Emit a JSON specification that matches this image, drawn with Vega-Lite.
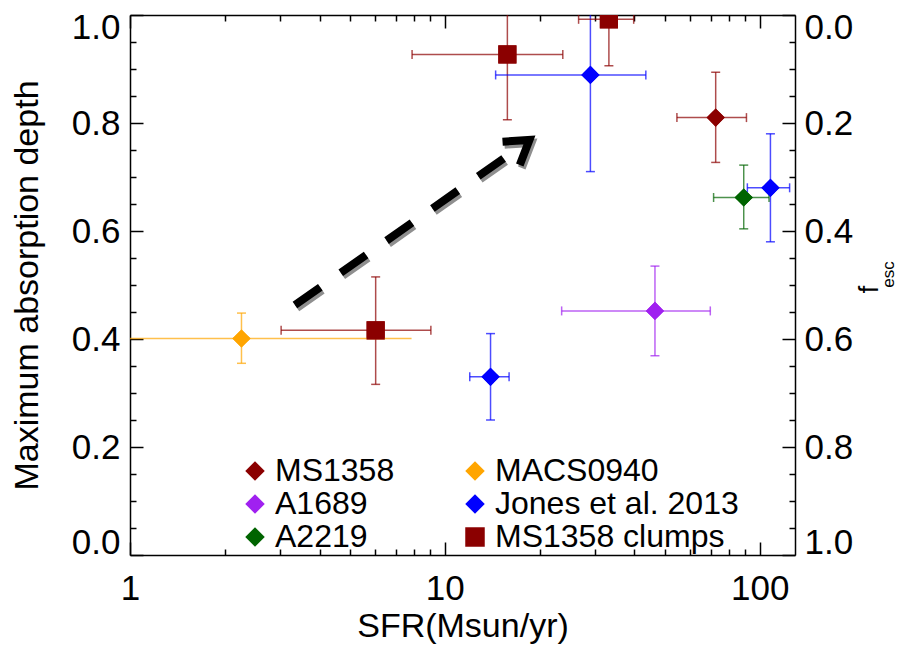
{
  "$schema": "https://vega.github.io/schema/vega-lite/v6.json",
  "width": 665,
  "height": 540,
  "autosize": {"type": "none"},
  "padding": {"left": 130, "top": 15, "right": 110, "bottom": 90},
  "background": "white",
  "config": {
    "font": "Liberation Sans",
    "view": {"stroke": null},
    "axis": {
      "grid": false,
      "domainColor": "black",
      "tickColor": "black",
      "labelColor": "black",
      "titleColor": "black",
      "labelFont": "Liberation Sans",
      "titleFont": "Liberation Sans",
      "titleFontWeight": "normal",
      "labelFontSize": 35,
      "titleFontSize": 34,
      "domainWidth": 1.5,
      "tickWidth": 1.5,
      "labelOverlap": false,
      "labelFlush": false
    },
    "legend": {
      "labelFontSize": 32,
      "labelFont": "Liberation Sans",
      "labelColor": "black",
      "symbolSize": 380,
      "labelOffset": 4,
      "symbolStrokeWidth": 0,
      "labelLimit": 500,
      "rowPadding": 1,
      "columnPadding": 64,
      "symbolOpacity": 1
    }
  },
  "datasets": {
    "pts": [
      {"group": "MS1358", "sfr": 72.5, "depth": 0.81, "xlo": 54.6, "xhi": 90.8, "ylo": 0.727, "yhi": 0.894},
      {"group": "A1689", "sfr": 46.5, "depth": 0.452, "xlo": 23.5, "xhi": 69.7, "ylo": 0.369, "yhi": 0.535},
      {"group": "A2219", "sfr": 89, "depth": 0.662, "xlo": 71.4, "xhi": 107.1, "ylo": 0.604, "yhi": 0.722},
      {"group": "MACS0940", "sfr": 2.26, "depth": 0.401, "xlo": 0.8, "xhi": 7.84, "ylo": 0.355, "yhi": 0.448},
      {"group": "Jones et al. 2013", "sfr": 29.0, "depth": 0.889, "xlo": 14.5, "xhi": 43.5, "ylo": 0.71, "yhi": 1.1},
      {"group": "Jones et al. 2013", "sfr": 108.2, "depth": 0.68, "xlo": 91.4, "xhi": 124.5, "ylo": 0.58, "yhi": 0.78},
      {"group": "Jones et al. 2013", "sfr": 13.97, "depth": 0.33, "xlo": 12.0, "xhi": 16.0, "ylo": 0.25, "yhi": 0.41},
      {"group": "MS1358 clumps", "sfr": 6.03, "depth": 0.416, "xlo": 3.02, "xhi": 9.03, "ylo": 0.316, "yhi": 0.515},
      {"group": "MS1358 clumps", "sfr": 15.8, "depth": 0.927, "xlo": 7.87, "xhi": 23.7, "ylo": 0.806, "yhi": 1.1},
      {"group": "MS1358 clumps", "sfr": 33.2, "depth": 0.992, "xlo": 26.6, "xhi": 39.8, "ylo": 0.906, "yhi": 1.1}
    ],
    "arrow": [
      {"part": "shaft", "sfr": 3.341, "depth": 0.463, "ord": 0},
      {"part": "shaft", "sfr": 15.39, "depth": 0.7346, "ord": 1},
      {"part": "head", "sfr": 15.25, "depth": 0.7654, "ord": 0},
      {"part": "head", "sfr": 18.57, "depth": 0.7687, "ord": 1},
      {"part": "head", "sfr": 17.3, "depth": 0.7222, "ord": 2}
    ]
  },
  "layer": [
    {
      "data": {"name": "pts"},
      "mark": {"type": "point", "filled": true, "size": 330, "opacity": 1, "clip": true, "strokeWidth": 0},
      "encoding": {
        "x": {"field": "sfr", "type": "quantitative", "scale": {"type": "log", "domain": [1, 129.5], "nice": false},
          "axis": {"orient": "bottom", "values": [1, 10, 100], "format": "d", "tickSize": -13, "labelPadding": 57, "labelBaseline": "alphabetic",
            "title": "SFR(Msun/yr)", "titleX": 332.5, "titleY": 81.5, "titleAlign": "center", "titleBaseline": "alphabetic", "titleAngle": 0}},
        "y": {"field": "depth", "type": "quantitative", "scale": {"domain": [0, 1], "nice": false, "zero": false},
          "axis": {"orient": "left", "values": [0, 0.2, 0.4, 0.6, 0.8, 1], "format": ".1f", "tickSize": -13, "labelPadding": 23,
            "labelFlush": true, "labelFlushOffset": 5,
            "title": "Maximum absorption depth", "titleX": -93, "titleY": 270, "titleAngle": 270, "titleAlign": "center", "titleBaseline": "alphabetic"}},
        "color": {"field": "group", "type": "nominal",
          "scale": {"domain": ["MS1358", "A1689", "A2219", "MACS0940", "Jones et al. 2013", "MS1358 clumps"],
            "range": ["#8B0000", "#A020F0", "#006400", "#FFA500", "#0000FF", "#8B0000"]},
          "legend": {"orient": "none", "legendX": 109, "legendY": 440, "columns": 2, "title": null, "symbolSize": 380}},
        "shape": {"field": "group", "type": "nominal",
          "scale": {"domain": ["MS1358", "A1689", "A2219", "MACS0940", "Jones et al. 2013", "MS1358 clumps"],
            "range": ["diamond", "diamond", "diamond", "diamond", "diamond", "square"]},
          "legend": {"orient": "none", "legendX": 109, "legendY": 440, "columns": 2, "title": null, "symbolSize": 380}}
      }
    },
    {
      "data": {"name": "pts"},
      "mark": {"type": "point", "opacity": 0},
      "encoding": {
        "x": {"field": "sfr", "type": "quantitative", "scale": {"type": "log", "domain": [1, 129.5], "nice": false},
          "axis": {"orient": "top", "values": [1, 10, 100], "labels": false, "tickSize": -13, "title": null}},
        "y": {"field": "depth", "type": "quantitative", "scale": {"domain": [0, 1], "nice": false, "zero": false, "reverse": true},
          "axis": {"orient": "right", "values": [0, 0.2, 0.4, 0.6, 0.8, 1], "format": ".1f", "tickSize": -13, "labelPadding": 22,
            "labelFlush": true, "labelFlushOffset": 5,
            "title": "f", "titleFontSize": 27, "titleX": 82, "titleY": 274, "titleAngle": 270, "titleAlign": "center", "titleBaseline": "alphabetic"}}
      }
    },
    {
      "data": {"name": "pts"},
      "mark": {"type": "point", "opacity": 0},
      "encoding": {
        "x": {"field": "sfr", "type": "quantitative", "scale": {"type": "log", "domain": [1, 129.5], "nice": false},
          "axis": {"orient": "bottom", "values": [2, 3, 4, 5, 6, 7, 8, 9, 20, 30, 40, 50, 60, 70, 80, 90], "labels": false, "tickSize": -6, "domain": false, "title": null}},
        "y": {"field": "depth", "type": "quantitative", "scale": {"domain": [0, 1], "nice": false, "zero": false},
          "axis": {"orient": "left", "values": [0.05, 0.1, 0.15, 0.25, 0.3, 0.35, 0.45, 0.5, 0.55, 0.65, 0.7, 0.75, 0.85, 0.9, 0.95], "labels": false, "tickSize": -6, "domain": false, "title": null}}
      }
    },
    {
      "data": {"name": "pts"},
      "mark": {"type": "point", "opacity": 0},
      "encoding": {
        "x": {"field": "sfr", "type": "quantitative", "scale": {"type": "log", "domain": [1, 129.5], "nice": false},
          "axis": {"orient": "top", "values": [2, 3, 4, 5, 6, 7, 8, 9, 20, 30, 40, 50, 60, 70, 80, 90], "labels": false, "tickSize": -6, "domain": false, "title": null}},
        "y": {"field": "depth", "type": "quantitative", "scale": {"domain": [0, 1], "nice": false, "zero": false, "reverse": true},
          "axis": {"orient": "right", "values": [0.05, 0.1, 0.15, 0.25, 0.3, 0.35, 0.45, 0.5, 0.55, 0.65, 0.7, 0.75, 0.85, 0.9, 0.95], "labels": false, "tickSize": -6, "domain": false,
            "title": "esc", "titleFontSize": 17, "titleX": 98, "titleY": 259, "titleAngle": 270, "titleAlign": "center", "titleBaseline": "alphabetic"}}
      }
    },
    {
      "data": {"name": "pts"},
      "mark": {"type": "rule", "clip": true, "strokeWidth": 1.5, "opacity": 0.7},
      "encoding": {
        "x": {"field": "sfr", "type": "quantitative", "scale": {"type": "log", "domain": [1, 129.5], "nice": false}, "axis": null},
        "y": {"field": "ylo", "type": "quantitative", "scale": {"domain": [0, 1], "nice": false, "zero": false}, "axis": null},
        "y2": {"field": "yhi"},
        "color": {"field": "group", "type": "nominal", "legend": null}
      }
    },
    {
      "data": {"name": "pts"},
      "mark": {"type": "rule", "clip": true, "strokeWidth": 1.5, "opacity": 0.7},
      "encoding": {
        "x": {"field": "xlo", "type": "quantitative", "scale": {"type": "log", "domain": [1, 129.5], "nice": false}, "axis": null},
        "x2": {"field": "xhi"},
        "y": {"field": "depth", "type": "quantitative", "scale": {"domain": [0, 1], "nice": false, "zero": false}, "axis": null},
        "color": {"field": "group", "type": "nominal", "legend": null}
      }
    },
    {
      "data": {"name": "pts"},
      "mark": {"type": "tick", "orient": "horizontal", "size": 9, "thickness": 1.5, "opacity": 0.7, "clip": true},
      "encoding": {
        "x": {"field": "sfr", "type": "quantitative", "scale": {"type": "log", "domain": [1, 129.5], "nice": false}, "axis": null},
        "y": {"field": "ylo", "type": "quantitative", "scale": {"domain": [0, 1], "nice": false, "zero": false}, "axis": null},
        "color": {"field": "group", "type": "nominal", "legend": null}
      }
    },
    {
      "data": {"name": "pts"},
      "transform": [{"filter": "datum.yhi <= 1"}],
      "mark": {"type": "tick", "orient": "horizontal", "size": 9, "thickness": 1.5, "opacity": 0.7, "clip": true},
      "encoding": {
        "x": {"field": "sfr", "type": "quantitative", "scale": {"type": "log", "domain": [1, 129.5], "nice": false}, "axis": null},
        "y": {"field": "yhi", "type": "quantitative", "scale": {"domain": [0, 1], "nice": false, "zero": false}, "axis": null},
        "color": {"field": "group", "type": "nominal", "legend": null}
      }
    },
    {
      "data": {"name": "pts"},
      "transform": [{"filter": "datum.xlo >= 1 && datum.group != 'MACS0940'"}],
      "mark": {"type": "tick", "orient": "vertical", "size": 9, "thickness": 1.5, "opacity": 0.7, "clip": true},
      "encoding": {
        "x": {"field": "xlo", "type": "quantitative", "scale": {"type": "log", "domain": [1, 129.5], "nice": false}, "axis": null},
        "y": {"field": "depth", "type": "quantitative", "scale": {"domain": [0, 1], "nice": false, "zero": false}, "axis": null},
        "color": {"field": "group", "type": "nominal", "legend": null}
      }
    },
    {
      "data": {"name": "pts"},
      "transform": [{"filter": "datum.group != 'MACS0940'"}],
      "mark": {"type": "tick", "orient": "vertical", "size": 9, "thickness": 1.5, "opacity": 0.7, "clip": true},
      "encoding": {
        "x": {"field": "xhi", "type": "quantitative", "scale": {"type": "log", "domain": [1, 129.5], "nice": false}, "axis": null},
        "y": {"field": "depth", "type": "quantitative", "scale": {"domain": [0, 1], "nice": false, "zero": false}, "axis": null},
        "color": {"field": "group", "type": "nominal", "legend": null}
      }
    },
    {
      "data": {"name": "pts"},
      "mark": {"type": "point", "filled": true, "size": 330, "opacity": 1, "clip": true, "strokeWidth": 0},
      "encoding": {
        "x": {"field": "sfr", "type": "quantitative", "scale": {"type": "log", "domain": [1, 129.5], "nice": false}, "axis": null},
        "y": {"field": "depth", "type": "quantitative", "scale": {"domain": [0, 1], "nice": false, "zero": false}, "axis": null},
        "color": {"field": "group", "type": "nominal", "legend": null},
        "shape": {"field": "group", "type": "nominal", "legend": null}
      }
    },
    {
      "data": {"name": "arrow"},
      "transform": [{"filter": "datum.part == 'shaft'"}],
      "mark": {"type": "line", "color": "#8f8f8f", "strokeWidth": 8, "strokeDash": [31, 25], "strokeCap": "butt", "xOffset": 2, "yOffset": 3},
      "encoding": {
        "x": {"field": "sfr", "type": "quantitative", "scale": {"type": "log", "domain": [1, 129.5], "nice": false}, "axis": null},
        "y": {"field": "depth", "type": "quantitative", "scale": {"domain": [0, 1], "nice": false, "zero": false}, "axis": null},
        "order": {"field": "ord", "type": "quantitative"}
      }
    },
    {
      "data": {"name": "arrow"},
      "transform": [{"filter": "datum.part == 'head'"}],
      "mark": {"type": "line", "color": "#8f8f8f", "strokeWidth": 8, "strokeCap": "butt", "strokeJoin": "miter", "xOffset": 2, "yOffset": 3},
      "encoding": {
        "x": {"field": "sfr", "type": "quantitative", "scale": {"type": "log", "domain": [1, 129.5], "nice": false}, "axis": null},
        "y": {"field": "depth", "type": "quantitative", "scale": {"domain": [0, 1], "nice": false, "zero": false}, "axis": null},
        "order": {"field": "ord", "type": "quantitative"}
      }
    },
    {
      "data": {"name": "arrow"},
      "transform": [{"filter": "datum.part == 'shaft'"}],
      "mark": {"type": "line", "color": "black", "strokeWidth": 8, "strokeDash": [31, 25], "strokeCap": "butt"},
      "encoding": {
        "x": {"field": "sfr", "type": "quantitative", "scale": {"type": "log", "domain": [1, 129.5], "nice": false}, "axis": null},
        "y": {"field": "depth", "type": "quantitative", "scale": {"domain": [0, 1], "nice": false, "zero": false}, "axis": null},
        "order": {"field": "ord", "type": "quantitative"}
      }
    },
    {
      "data": {"name": "arrow"},
      "transform": [{"filter": "datum.part == 'head'"}],
      "mark": {"type": "line", "color": "black", "strokeWidth": 8, "strokeCap": "butt", "strokeJoin": "miter"},
      "encoding": {
        "x": {"field": "sfr", "type": "quantitative", "scale": {"type": "log", "domain": [1, 129.5], "nice": false}, "axis": null},
        "y": {"field": "depth", "type": "quantitative", "scale": {"domain": [0, 1], "nice": false, "zero": false}, "axis": null},
        "order": {"field": "ord", "type": "quantitative"}
      }
    }
  ],
  "resolve": {"scale": {"x": "independent", "y": "independent"}}
}
